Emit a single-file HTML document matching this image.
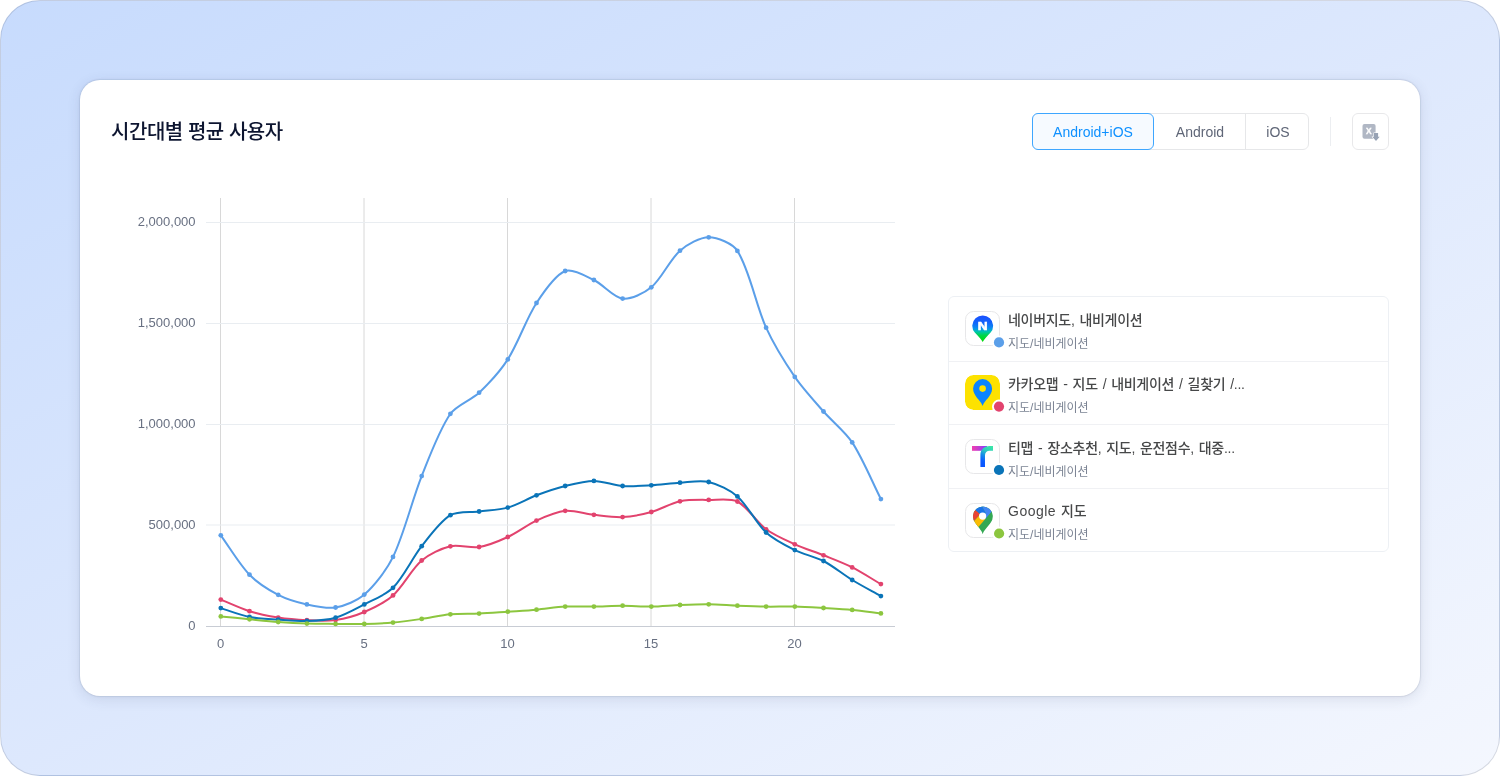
<!DOCTYPE html>
<html lang="ko"><head><meta charset="utf-8"><title>시간대별 평균 사용자</title>
<style>
*{box-sizing:border-box;margin:0;padding:0}
html,body{width:1500px;height:776px;overflow:hidden;background:#fff}
body{position:relative;-webkit-font-smoothing:antialiased;font-family:"Liberation Sans","Noto Sans CJK KR",sans-serif}
.frame{position:absolute;left:0;top:0;width:1500px;height:776px;border-radius:40px;border:1px solid rgba(40,50,70,0.15);
 background:linear-gradient(to bottom right,#c7dbfd 0%,#dde8fd 50%,#f4f7fe 100%)}
.card{position:absolute;left:80px;top:80px;width:1340px;height:616px;border-radius:20px;background:#fff;
 box-shadow:0 0 0 1px rgba(50,60,90,.06),0 0 3px rgba(50,60,90,.10),0 3px 14px rgba(50,60,90,.12)}
.title{position:absolute;left:110.6px;top:118.3px;font-size:20px;font-weight:500;color:#0d1530;letter-spacing:-0.45px;line-height:28px;white-space:nowrap}
.seg{position:absolute;left:1032px;top:113px;width:277px;height:37px;border:1px solid #e6e7e9;border-radius:6px;background:#fff}
.seg div{position:absolute;top:-1px;height:37px;line-height:39px;text-align:center;font-size:14px;color:#5f6677}
.seg .on{left:-1px;width:122px;border:1px solid #3ea6ff;border-radius:6px;background:#f6faff;color:#0e90ff;line-height:37px}
.seg .a{left:121px;width:92px}
.seg .i{left:212px;width:65px;border-left:1px solid #e6e7e9}
.vdiv{position:absolute;left:1330px;top:117px;width:1px;height:29px;background:#eceef1}
.xls{position:absolute;left:1352px;top:113px;width:37px;height:37px;border:1px solid #e8e8ea;border-radius:6px;background:#fff}
.xls svg{position:absolute;left:9px;top:10px}
.chart{position:absolute;left:0;top:0}
.title,.seg,.xls,.chart,.legend{will-change:transform}
.legend{position:absolute;left:948px;top:296px;width:441px;height:256px;border:1px solid #edf0f4;border-radius:6px;background:#fff}
.row{position:relative;height:63.5px;border-top:1px solid #f0f1f4}
.row.first{border-top:none}
.row.r2 .ico{top:13.4px}
.ico{position:absolute;left:16px;top:14px;width:35px;height:35px;border-radius:8.5px;overflow:hidden}
.ico.bd{border:1px solid #e7e7e9}
.ico svg{position:absolute;left:0;top:0}
.ico.bd svg{left:-1px;top:-1px}
.dots{position:absolute;left:0;top:0;will-change:transform}
.name{position:absolute;left:59px;top:12.7px;font-size:14px;font-weight:500;color:#474849;letter-spacing:-0.3px;word-spacing:1.35px;white-space:nowrap;line-height:20px}
.cat{position:absolute;left:59px;top:38.7px;font-size:12px;color:#7c8494;white-space:nowrap;line-height:17px}
</style></head><body>
<div class="frame"></div>
<div class="card"></div>
<div class="title">시간대별 평균 사용자</div>
<div class="seg"><div class="on">Android+iOS</div><div class="a">Android</div><div class="i">iOS</div></div>
<div class="vdiv"></div>
<div class="xls"><svg width="20" height="20" viewBox="0 0 20 20"><rect x="0.5" y="0.1" width="13.1" height="14.6" rx="2" fill="#b0b7c4"/>
<text x="6.85" y="10.4" text-anchor="middle" font-family="Liberation Sans, sans-serif" font-weight="bold" font-size="8.4" fill="#fff" stroke="#fff" stroke-width="0.35">X</text>
<path d="M11.9 9 L16.1 9 L16.1 12.8 L17.7 12.8 L14 17.1 L10.3 12.8 L11.9 12.8 Z" fill="#97a2b4" stroke="#fff" stroke-width="1.1" stroke-linejoin="round" paint-order="stroke"/></svg></div>
<svg class="chart" width="1500" height="776" viewBox="0 0 1500 776"><line x1="220.5" y1="198" x2="220.5" y2="626" stroke="#d8d8d8" stroke-width="1"/><line x1="364.0" y1="198" x2="364.0" y2="626" stroke="#d8d8d8" stroke-width="1"/><line x1="507.5" y1="198" x2="507.5" y2="626" stroke="#d8d8d8" stroke-width="1"/><line x1="651.0" y1="198" x2="651.0" y2="626" stroke="#d8d8d8" stroke-width="1"/><line x1="794.5" y1="198" x2="794.5" y2="626" stroke="#d8d8d8" stroke-width="1"/><line x1="206" y1="222.5" x2="895" y2="222.5" stroke="#e9edf1" stroke-width="1"/><line x1="206" y1="323.5" x2="895" y2="323.5" stroke="#e9edf1" stroke-width="1"/><line x1="206" y1="424.5" x2="895" y2="424.5" stroke="#e9edf1" stroke-width="1"/><line x1="206" y1="525.0" x2="895" y2="525.0" stroke="#e9edf1" stroke-width="1"/><line x1="206" y1="626.5" x2="895" y2="626.5" stroke="#c8ccd4" stroke-width="1"/><g font-family="Liberation Sans, Arial, sans-serif" font-size="13" fill="#687082"><text x="195.6" y="630.0" text-anchor="end">0</text><text x="195.6" y="529.0" text-anchor="end">500,000</text><text x="195.6" y="428.0" text-anchor="end">1,000,000</text><text x="195.6" y="327.0" text-anchor="end">1,500,000</text><text x="195.6" y="226.0" text-anchor="end">2,000,000</text><text x="220.5" y="648" text-anchor="middle">0</text><text x="364.0" y="648" text-anchor="middle">5</text><text x="507.5" y="648" text-anchor="middle">10</text><text x="651.0" y="648" text-anchor="middle">15</text><text x="794.5" y="648" text-anchor="middle">20</text></g><path d="M220.80 535.30 C229.41 547.12 239.48 564.31 249.50 574.70 C256.70 582.16 268.96 590.02 278.20 594.80 C286.18 598.93 298.09 602.45 306.90 604.40 C315.31 606.26 327.36 608.91 335.60 607.50 C344.58 605.97 357.43 600.66 364.30 594.60 C374.65 585.48 386.87 569.55 393.00 556.90 C404.09 534.00 412.13 499.95 421.70 476.10 C429.35 457.02 439.07 430.27 450.40 413.80 C456.29 405.25 471.39 400.00 479.10 392.70 C488.61 383.68 500.74 370.43 507.80 359.40 C517.96 343.52 526.25 318.79 536.50 303.00 C543.47 292.27 555.07 275.06 565.20 271.00 C572.29 268.16 585.84 276.13 593.90 280.00 C603.06 284.41 613.55 297.45 622.60 298.60 C630.77 299.64 644.43 293.03 651.30 287.30 C661.65 278.66 669.76 259.62 680.00 250.70 C686.98 244.62 700.10 237.27 708.70 237.30 C717.32 237.33 732.59 243.33 737.40 250.90 C749.81 270.45 755.94 305.40 766.10 327.70 C773.16 343.20 785.18 362.85 794.80 376.90 C802.40 387.99 814.62 401.36 823.50 411.50 C831.84 421.01 845.33 431.92 852.20 442.40 C862.55 458.20 872.29 482.09 880.90 499.10" fill="none" stroke="#5b9fe9" stroke-width="2" stroke-linejoin="round" stroke-linecap="round"/>
<circle cx="220.8" cy="535.3" r="2.4" fill="#5b9fe9"/><circle cx="249.5" cy="574.7" r="2.4" fill="#5b9fe9"/><circle cx="278.2" cy="594.8" r="2.4" fill="#5b9fe9"/><circle cx="306.9" cy="604.4" r="2.4" fill="#5b9fe9"/><circle cx="335.6" cy="607.5" r="2.4" fill="#5b9fe9"/><circle cx="364.3" cy="594.6" r="2.4" fill="#5b9fe9"/><circle cx="393.0" cy="556.9" r="2.4" fill="#5b9fe9"/><circle cx="421.7" cy="476.1" r="2.4" fill="#5b9fe9"/><circle cx="450.4" cy="413.8" r="2.4" fill="#5b9fe9"/><circle cx="479.1" cy="392.7" r="2.4" fill="#5b9fe9"/><circle cx="507.8" cy="359.4" r="2.4" fill="#5b9fe9"/><circle cx="536.5" cy="303.0" r="2.4" fill="#5b9fe9"/><circle cx="565.2" cy="271.0" r="2.4" fill="#5b9fe9"/><circle cx="593.9" cy="280.0" r="2.4" fill="#5b9fe9"/><circle cx="622.6" cy="298.6" r="2.4" fill="#5b9fe9"/><circle cx="651.3" cy="287.3" r="2.4" fill="#5b9fe9"/><circle cx="680.0" cy="250.7" r="2.4" fill="#5b9fe9"/><circle cx="708.7" cy="237.3" r="2.4" fill="#5b9fe9"/><circle cx="737.4" cy="250.9" r="2.4" fill="#5b9fe9"/><circle cx="766.1" cy="327.7" r="2.4" fill="#5b9fe9"/><circle cx="794.8" cy="376.9" r="2.4" fill="#5b9fe9"/><circle cx="823.5" cy="411.5" r="2.4" fill="#5b9fe9"/><circle cx="852.2" cy="442.4" r="2.4" fill="#5b9fe9"/><circle cx="880.9" cy="499.1" r="2.4" fill="#5b9fe9"/>
<path d="M220.80 599.60 C229.41 603.08 240.67 608.43 249.50 611.20 C257.89 613.83 269.50 616.24 278.20 617.60 C286.72 618.94 298.27 619.84 306.90 620.20 C315.49 620.56 327.15 621.21 335.60 620.00 C344.37 618.75 356.15 615.49 364.30 612.00 C373.37 608.11 385.71 601.94 393.00 595.40 C402.93 586.49 411.62 569.12 421.70 560.50 C428.84 554.39 441.32 548.44 450.40 546.30 C458.54 544.39 470.74 548.36 479.10 547.00 C487.96 545.57 499.55 540.79 507.80 537.00 C516.77 532.87 527.52 524.70 536.50 520.60 C544.74 516.84 556.39 511.69 565.20 510.80 C573.61 509.95 585.26 513.85 593.90 514.80 C602.48 515.74 614.04 517.52 622.60 517.10 C631.26 516.68 642.90 514.31 651.30 512.00 C660.12 509.57 671.12 503.17 680.00 501.30 C688.34 499.54 700.09 499.87 708.70 499.90 C717.31 499.93 730.20 497.81 737.40 501.50 C747.42 506.63 756.59 522.21 766.10 529.30 C773.81 535.05 785.97 540.30 794.80 544.30 C803.19 548.10 814.95 551.86 823.50 555.30 C832.17 558.79 843.87 563.22 852.20 567.40 C861.09 571.86 872.29 579.09 880.90 584.10" fill="none" stroke="#e2436e" stroke-width="2" stroke-linejoin="round" stroke-linecap="round"/>
<circle cx="220.8" cy="599.6" r="2.4" fill="#e2436e"/><circle cx="249.5" cy="611.2" r="2.4" fill="#e2436e"/><circle cx="278.2" cy="617.6" r="2.4" fill="#e2436e"/><circle cx="306.9" cy="620.2" r="2.4" fill="#e2436e"/><circle cx="335.6" cy="620.0" r="2.4" fill="#e2436e"/><circle cx="364.3" cy="612.0" r="2.4" fill="#e2436e"/><circle cx="393.0" cy="595.4" r="2.4" fill="#e2436e"/><circle cx="421.7" cy="560.5" r="2.4" fill="#e2436e"/><circle cx="450.4" cy="546.3" r="2.4" fill="#e2436e"/><circle cx="479.1" cy="547.0" r="2.4" fill="#e2436e"/><circle cx="507.8" cy="537.0" r="2.4" fill="#e2436e"/><circle cx="536.5" cy="520.6" r="2.4" fill="#e2436e"/><circle cx="565.2" cy="510.8" r="2.4" fill="#e2436e"/><circle cx="593.9" cy="514.8" r="2.4" fill="#e2436e"/><circle cx="622.6" cy="517.1" r="2.4" fill="#e2436e"/><circle cx="651.3" cy="512.0" r="2.4" fill="#e2436e"/><circle cx="680.0" cy="501.3" r="2.4" fill="#e2436e"/><circle cx="708.7" cy="499.9" r="2.4" fill="#e2436e"/><circle cx="737.4" cy="501.5" r="2.4" fill="#e2436e"/><circle cx="766.1" cy="529.3" r="2.4" fill="#e2436e"/><circle cx="794.8" cy="544.3" r="2.4" fill="#e2436e"/><circle cx="823.5" cy="555.3" r="2.4" fill="#e2436e"/><circle cx="852.2" cy="567.4" r="2.4" fill="#e2436e"/><circle cx="880.9" cy="584.1" r="2.4" fill="#e2436e"/>
<path d="M220.80 608.10 C229.41 610.77 240.71 615.24 249.50 617.00 C257.93 618.69 269.58 619.00 278.20 619.60 C286.80 620.20 298.31 621.28 306.90 621.00 C315.53 620.71 327.38 620.08 335.60 617.70 C344.60 615.10 355.89 608.78 364.30 604.40 C373.11 599.81 386.18 594.72 393.00 587.80 C403.40 577.26 412.32 558.06 421.70 546.20 C429.54 536.28 440.18 521.38 450.40 515.20 C457.40 510.97 470.49 512.64 479.10 511.50 C487.71 510.36 499.51 509.94 507.80 507.60 C516.73 505.08 527.74 498.60 536.50 495.30 C544.96 492.12 556.44 488.20 565.20 486.00 C573.66 483.88 585.29 480.90 593.90 480.90 C602.51 480.90 613.92 485.33 622.60 486.00 C631.14 486.65 642.71 485.79 651.30 485.30 C659.93 484.80 671.37 483.20 680.00 482.70 C688.59 482.21 700.57 480.06 708.70 482.00 C717.79 484.17 730.33 490.18 737.40 496.40 C747.55 505.33 756.15 523.19 766.10 532.50 C773.37 539.30 785.79 545.63 794.80 550.10 C803.01 554.18 815.38 556.77 823.50 561.00 C832.60 565.74 843.40 574.62 852.20 580.00 C860.62 585.15 872.29 591.27 880.90 596.10" fill="none" stroke="#0a74b8" stroke-width="2" stroke-linejoin="round" stroke-linecap="round"/>
<circle cx="220.8" cy="608.1" r="2.4" fill="#0a74b8"/><circle cx="249.5" cy="617.0" r="2.4" fill="#0a74b8"/><circle cx="278.2" cy="619.6" r="2.4" fill="#0a74b8"/><circle cx="306.9" cy="621.0" r="2.4" fill="#0a74b8"/><circle cx="335.6" cy="617.7" r="2.4" fill="#0a74b8"/><circle cx="364.3" cy="604.4" r="2.4" fill="#0a74b8"/><circle cx="393.0" cy="587.8" r="2.4" fill="#0a74b8"/><circle cx="421.7" cy="546.2" r="2.4" fill="#0a74b8"/><circle cx="450.4" cy="515.2" r="2.4" fill="#0a74b8"/><circle cx="479.1" cy="511.5" r="2.4" fill="#0a74b8"/><circle cx="507.8" cy="507.6" r="2.4" fill="#0a74b8"/><circle cx="536.5" cy="495.3" r="2.4" fill="#0a74b8"/><circle cx="565.2" cy="486.0" r="2.4" fill="#0a74b8"/><circle cx="593.9" cy="480.9" r="2.4" fill="#0a74b8"/><circle cx="622.6" cy="486.0" r="2.4" fill="#0a74b8"/><circle cx="651.3" cy="485.3" r="2.4" fill="#0a74b8"/><circle cx="680.0" cy="482.7" r="2.4" fill="#0a74b8"/><circle cx="708.7" cy="482.0" r="2.4" fill="#0a74b8"/><circle cx="737.4" cy="496.4" r="2.4" fill="#0a74b8"/><circle cx="766.1" cy="532.5" r="2.4" fill="#0a74b8"/><circle cx="794.8" cy="550.1" r="2.4" fill="#0a74b8"/><circle cx="823.5" cy="561.0" r="2.4" fill="#0a74b8"/><circle cx="852.2" cy="580.0" r="2.4" fill="#0a74b8"/><circle cx="880.9" cy="596.1" r="2.4" fill="#0a74b8"/>
<path d="M220.80 616.40 C229.41 617.27 240.89 618.46 249.50 619.30 C258.11 620.14 269.58 621.35 278.20 622.00 C286.80 622.64 298.28 623.31 306.90 623.60 C315.50 623.88 326.99 623.84 335.60 623.90 C344.21 623.96 355.70 624.19 364.30 624.00 C372.92 623.80 384.42 623.36 393.00 622.60 C401.64 621.83 413.11 620.14 421.70 618.90 C430.33 617.65 441.74 615.10 450.40 614.30 C458.96 613.51 470.50 613.99 479.10 613.60 C487.72 613.21 499.19 612.28 507.80 611.70 C516.41 611.11 527.90 610.46 536.50 609.70 C545.12 608.93 556.57 607.07 565.20 606.60 C573.79 606.14 585.29 606.73 593.90 606.60 C602.51 606.46 613.99 605.70 622.60 605.70 C631.21 605.70 642.69 606.70 651.30 606.60 C659.91 606.49 671.38 605.35 680.00 605.00 C688.60 604.66 700.09 604.20 708.70 604.30 C717.31 604.41 728.79 605.35 737.40 605.70 C746.01 606.04 757.49 606.46 766.10 606.60 C774.71 606.73 786.20 606.39 794.80 606.60 C803.42 606.81 814.89 607.51 823.50 608.00 C832.11 608.50 843.61 609.09 852.20 609.90 C860.83 610.71 872.29 612.35 880.90 613.40" fill="none" stroke="#8cc63f" stroke-width="2" stroke-linejoin="round" stroke-linecap="round"/>
<circle cx="220.8" cy="616.4" r="2.4" fill="#8cc63f"/><circle cx="249.5" cy="619.3" r="2.4" fill="#8cc63f"/><circle cx="278.2" cy="622.0" r="2.4" fill="#8cc63f"/><circle cx="306.9" cy="623.6" r="2.4" fill="#8cc63f"/><circle cx="335.6" cy="623.9" r="2.4" fill="#8cc63f"/><circle cx="364.3" cy="624.0" r="2.4" fill="#8cc63f"/><circle cx="393.0" cy="622.6" r="2.4" fill="#8cc63f"/><circle cx="421.7" cy="618.9" r="2.4" fill="#8cc63f"/><circle cx="450.4" cy="614.3" r="2.4" fill="#8cc63f"/><circle cx="479.1" cy="613.6" r="2.4" fill="#8cc63f"/><circle cx="507.8" cy="611.7" r="2.4" fill="#8cc63f"/><circle cx="536.5" cy="609.7" r="2.4" fill="#8cc63f"/><circle cx="565.2" cy="606.6" r="2.4" fill="#8cc63f"/><circle cx="593.9" cy="606.6" r="2.4" fill="#8cc63f"/><circle cx="622.6" cy="605.7" r="2.4" fill="#8cc63f"/><circle cx="651.3" cy="606.6" r="2.4" fill="#8cc63f"/><circle cx="680.0" cy="605.0" r="2.4" fill="#8cc63f"/><circle cx="708.7" cy="604.3" r="2.4" fill="#8cc63f"/><circle cx="737.4" cy="605.7" r="2.4" fill="#8cc63f"/><circle cx="766.1" cy="606.6" r="2.4" fill="#8cc63f"/><circle cx="794.8" cy="606.6" r="2.4" fill="#8cc63f"/><circle cx="823.5" cy="608.0" r="2.4" fill="#8cc63f"/><circle cx="852.2" cy="609.9" r="2.4" fill="#8cc63f"/><circle cx="880.9" cy="613.4" r="2.4" fill="#8cc63f"/>
</svg>
<div class="legend">
<div class="row first"><div class="ico bd"><svg width="35" height="35" viewBox="0 0 35 35"><defs><linearGradient id="ng" x1="0" y1="3.5" x2="0" y2="31" gradientUnits="userSpaceOnUse"><stop offset="0" stop-color="#1c4dff"/><stop offset="0.3" stop-color="#1264fb"/><stop offset="0.5" stop-color="#0a8ef0"/><stop offset="0.62" stop-color="#00c4b0"/><stop offset="0.76" stop-color="#00d64a"/><stop offset="1" stop-color="#00dc00"/></linearGradient></defs>
<path d="M17.7 30.9 Q15.2 27.2 9.8 21.6 A10.4 10.4 0 1 1 25.6 21.6 Q20.2 27.2 17.7 30.9 Z" fill="url(#ng)"/>
<text transform="translate(17.75 18.6) scale(1.22 1)" x="0" y="0" text-anchor="middle" font-family="Liberation Sans, sans-serif" font-weight="bold" font-size="11.2" fill="#fff" stroke="#fff" stroke-width="0.55">N</text></svg></div><div class="name">네이버지도, 내비게이션</div><div class="cat">지도/네비게이션</div></div>
<div class="row r2"><div class="ico"><svg width="35" height="35" viewBox="0 0 35 35"><rect x="0" y="0" width="35" height="35" rx="8.5" fill="#fde200"/>
<path d="M17.6 31 C15.6 25.2 8.1 21.2 8.1 13.6 A9.5 9.5 0 0 1 27.1 13.6 C27.1 21.2 19.6 25.2 17.6 31 Z" fill="#0a84ff"/>
<circle cx="17.6" cy="13.6" r="3.3" fill="#fde200"/></svg></div><div class="name">카카오맵 - 지도 / 내비게이션 / 길찾기 /...</div><div class="cat">지도/네비게이션</div></div>
<div class="row"><div class="ico bd"><svg width="35" height="35" viewBox="0 0 35 35"><defs><linearGradient id="th" x1="7" y1="0" x2="21" y2="0" gradientUnits="userSpaceOnUse"><stop offset="0" stop-color="#f23fae"/><stop offset="1" stop-color="#8b3cf8"/></linearGradient>
<linearGradient id="tv" x1="27" y1="7" x2="17" y2="26" gradientUnits="userSpaceOnUse"><stop offset="0" stop-color="#3de8a4"/><stop offset="0.3" stop-color="#2fcfbd"/><stop offset="0.55" stop-color="#1690e6"/><stop offset="0.8" stop-color="#0a5eff"/><stop offset="1" stop-color="#0a55ff"/></linearGradient></defs>
<rect x="7" y="7" width="15" height="4.8" fill="url(#th)"/>
<path d="M15.4 28 L15.4 16 C15.4 10.6 19.3 7 24.6 7 L28 7 L28 11.8 L24.6 11.8 C21.9 11.8 20 13.6 20 16.3 L20 28 Z" fill="url(#tv)"/></svg></div><div class="name">티맵 - 장소추천, 지도, 운전점수, 대중...</div><div class="cat">지도/네비게이션</div></div>
<div class="row"><div class="ico bd"><svg width="35" height="35" viewBox="0 0 35 35">
<clipPath id="gp"><path d="M17.7 31.3 C16.9 27.2 12.6 23.4 10.03 19.4 A9.9 9.9 0 1 1 25.77 19.4 C23.1 23.4 18.6 27.2 17.7 31.3 Z"/></clipPath>
<g clip-path="url(#gp)">
<rect x="-2" y="-6" width="40" height="42" fill="#34a853"/>
<path d="M17.55 13.1 L14 12.4 L0 27.6 L0.8 38.7 L20.53 15.65 Z" fill="#fbbc04"/>
<path d="M-2 -3.4 L17.55 13.1 L14 12.4 L9.1 17.7 L-2 29.7 Z" fill="#ea4335"/>
<path d="M-2 -3.4 L-2 -6 L12.57 -6 L17.2 3.6 L20.7 10.1 L17.55 13.1 Z" fill="#1a73e8"/>
<path d="M12.57 -6 L39.04 -6 L20.53 15.65 L17.55 13.1 L20.7 10.1 L17.2 3.6 Z" fill="#4285f4"/>
</g>
<circle cx="17.6" cy="13.1" r="3.6" fill="#fff"/></svg></div><div class="name"><span style="letter-spacing:0.5px">Google</span> 지도</div><div class="cat">지도/네비게이션</div></div>
</div>
<svg class="dots" width="1500" height="776" viewBox="0 0 1500 776"><circle cx="999.0" cy="342.4" r="7" fill="#fff"/><circle cx="999.0" cy="342.4" r="5.1" fill="#5b9fe9"/><circle cx="999.0" cy="406.6" r="7" fill="#fff"/><circle cx="999.0" cy="406.6" r="5.1" fill="#e2436e"/><circle cx="999.0" cy="470.0" r="7" fill="#fff"/><circle cx="999.0" cy="470.0" r="5.1" fill="#0a74b8"/><circle cx="999.1" cy="533.5" r="7" fill="#fff"/><circle cx="999.1" cy="533.5" r="5.1" fill="#8cc63f"/></svg>
</body></html>
